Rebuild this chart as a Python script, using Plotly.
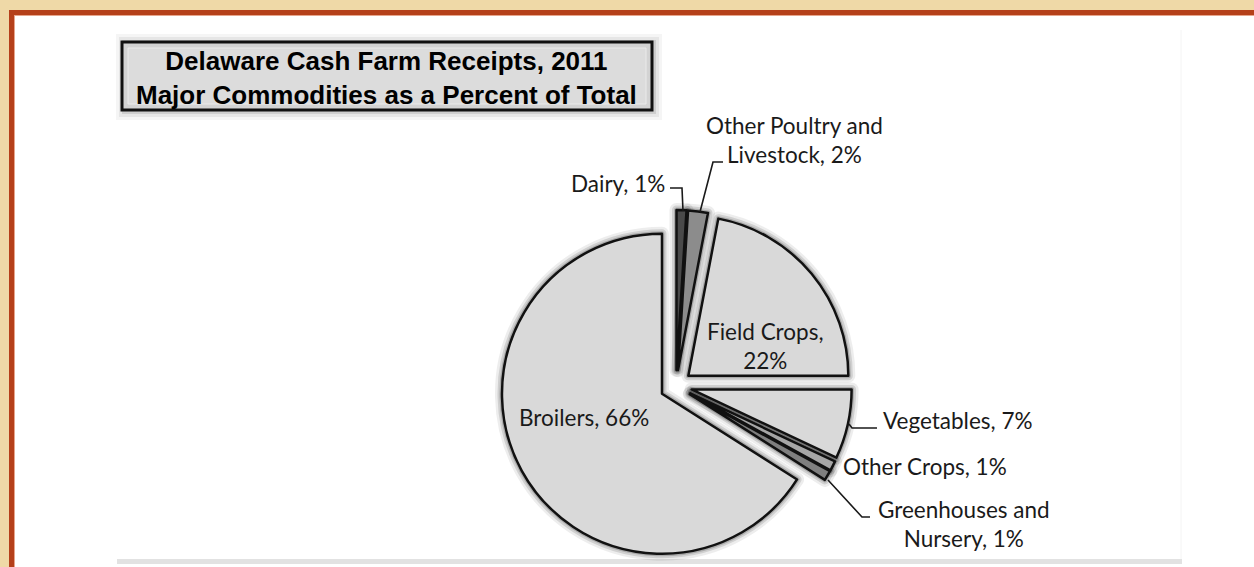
import plotly.graph_objects as go

# ---------------- data ----------------
CATEGORIES = ["Dairy", "Other Poultry and Livestock", "Field Crops", "Vegetables",
              "Other Crops", "Greenhouses and Nursery", "Broilers"]
VALUES = [1, 2, 22, 7, 1, 1, 66]
LABEL_LINES = ["Dairy", "Other Poultry and<br>Livestock", "Field Crops", "Vegetables",
               "Other Crops", "Greenhouses and<br>Nursery", "Broilers"]
SEPARATORS = [", ", ", ", ",<br>", ", ", ", ", ", ", ", "]
TITLE_LINES = ["Delaware Cash Farm Receipts, 2011", "Major Commodities as a Percent of Total"]

# ---------------- style ----------------
W, H = 1254, 567
COLORS = ["#4a4a4a", "#8c8c8c", "#d9d9d9", "#d9d9d9", "#a6a6a6", "#7f7f7f", "#d9d9d9"]
PULLS = [0.1] * len(VALUES)
LABEL_FONT = dict(family="Lato, Calibri, sans-serif", size=22.5, color="#1a1a1a")


def X(px):
    return px / W


def Y(py):
    return 1 - py / H


# pie centre (676, 386) px, outer box 352 px tall
domain = dict(x=[X(676 - 250), X(676 + 250)], y=[Y(386 + 176), Y(386 - 176)])

fig = go.Figure()
# soft shadow/halo traces
for wdt, alpha in [(14, 0.07), (9, 0.12), (5, 0.18)]:
    fig.add_trace(go.Pie(
        labels=CATEGORIES, values=VALUES, sort=False, direction="clockwise", rotation=0,
        pull=PULLS, domain=domain, textinfo="none", hoverinfo="skip", showlegend=False,
        marker=dict(colors=["rgba(0,0,0,0)"] * len(VALUES),
                    line=dict(color=f"rgba(0,0,0,{alpha})", width=wdt)),
    ))
fig.add_trace(go.Pie(
    labels=CATEGORIES, values=VALUES, sort=False, direction="clockwise", rotation=0,
    pull=PULLS, domain=domain, textinfo="none", showlegend=False,
    marker=dict(colors=COLORS, line=dict(color="#111111", width=2.5)),
    hovertemplate="%{label}: %{value}%<extra></extra>",
))

texts = [f"{lab}{sep}{v}%" for lab, sep, v in zip(LABEL_LINES, SEPARATORS, VALUES)]
# label positions (px centre) per category
LABEL_POS = [(618, 183), (794, 140), (765, 346), (958, 420), (925, 466), (964, 524), (584, 417)]

annotations = []
for t, (lx, ly) in zip(texts, LABEL_POS):
    annotations.append(dict(text=t, x=X(lx), y=Y(ly), xref="paper", yref="paper",
                            xanchor="center", yanchor="middle", showarrow=False,
                            font=LABEL_FONT, align="center"))

annotations.append(dict(text="<b>" + "<br>".join(TITLE_LINES) + "</b>",
                        x=X(386), y=Y(78), xref="paper", yref="paper",
                        xanchor="center", yanchor="middle", showarrow=False,
                        font=dict(family="Liberation Sans, Arial, sans-serif", size=26,
                                  color="#000000"), align="center"))

shapes = []
# frame: beige paper, red border, white inner panel
shapes.append(dict(type="rect", xref="paper", yref="paper", x0=X(9), x1=1.05, y0=-0.05, y1=Y(10),
                   fillcolor="#b5401a", line=dict(width=0), layer="below"))
shapes.append(dict(type="rect", xref="paper", yref="paper", x0=X(14), x1=1.05, y0=-0.05, y1=Y(15),
                   fillcolor="#e7a58c", line=dict(width=0), layer="below"))
shapes.append(dict(type="rect", xref="paper", yref="paper", x0=X(15), x1=1.05, y0=-0.05, y1=Y(16),
                   fillcolor="#ffffff", line=dict(width=0), layer="below"))
# chart area bottom edge / right edge
shapes.append(dict(type="rect", xref="paper", yref="paper", x0=X(117), x1=X(1182), y0=Y(564), y1=Y(559),
                   fillcolor="#e2e2e2", line=dict(width=0), layer="below"))
shapes.append(dict(type="line", xref="paper", yref="paper", x0=X(1181), x1=X(1181), y0=Y(559), y1=Y(30),
                   line=dict(color="#f4f4f4", width=1), layer="below"))
# title box shadow + box
for off, col in [(8, "rgba(0,0,0,0.04)"), (5, "rgba(0,0,0,0.06)"), (2, "rgba(0,0,0,0.10)")]:
    shapes.append(dict(type="rect", xref="paper", yref="paper", x0=X(122 - off + 2), x1=X(652 + off + 2),
                       y0=Y(110 + off + 2), y1=Y(42 - off),
                       fillcolor=col, line=dict(width=0), layer="below"))
shapes.append(dict(type="rect", xref="paper", yref="paper", x0=X(122), x1=X(652), y0=Y(110), y1=Y(42),
                   fillcolor="#d3d3d3", line=dict(color="#111111", width=3), layer="below"))
shapes.append(dict(type="rect", xref="paper", yref="paper", x0=X(128), x1=X(646), y0=Y(104), y1=Y(48),
                   fillcolor="#dcdcdc", line=dict(color="#ebebeb", width=1), layer="below"))

# leader lines
LEADERS = [
    [(670, 188), (682, 188), (683, 211)],
    [(723, 162), (713, 162), (700, 212)],
    [(877, 428), (852, 428), (849, 424)],
    [(870, 517), (862, 517), (828, 480)],
]
for pts in LEADERS:
    path = "M " + " L ".join(f"{X(a):.5f},{Y(b):.5f}" for a, b in pts)
    shapes.append(dict(type="path", xref="paper", yref="paper", path=path,
                       line=dict(color="#1a1a1a", width=1.6)))

fig.update_layout(
    width=W, height=H, autosize=False,
    margin=dict(l=0, r=0, t=0, b=0, pad=0),
    paper_bgcolor="#efd9a7", plot_bgcolor="#ffffff",
    shapes=shapes, annotations=annotations,
)

fig.write_html("out.html", config={"displayModeBar": False},
               post_script="document.body.style.margin='0';document.body.style.overflow='hidden';")
